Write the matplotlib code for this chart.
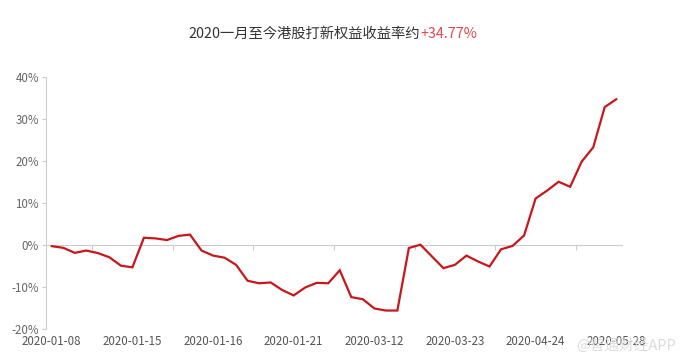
import matplotlib
matplotlib.use("Agg")
import matplotlib.pyplot as plt
from matplotlib.ticker import FuncFormatter

plt.rcParams['font.family'] = ['Noto Sans CJK SC', 'DejaVu Sans']

# ---- data ----
returns = [-0.25, -0.65, -1.85, -1.3, -1.9, -2.9, -4.9, -5.3, 1.75, 1.6,
           1.2, 2.2, 2.5, -1.3, -2.5, -3.0, -4.7, -8.5, -9.1, -8.9,
           -10.7, -12.0, -10.1, -9.0, -9.1, -6.0, -12.4, -12.9, -15.1, -15.6,
           -15.6, -0.7, 0.1, -2.7, -5.5, -4.7, -2.5, -3.9, -5.1, -1.0,
           -0.2, 2.3, 11.1, 13.0, 15.1, 13.9, 19.9, 23.3, 32.9, 34.77]
tick_labels = ['2020-01-08', '2020-01-15', '2020-01-16', '2020-01-21',
               '2020-03-12', '2020-03-23', '2020-04-24', '2020-05-28']
label_step = 7
y_ticks = [-20, -10, 0, 10, 20, 30, 40]
title_main = '2020一月至今港股打新权益收益率约'
title_value = '+34.77%'

# ---- figure ----
fig = plt.figure(figsize=(6.85, 3.64), dpi=100)
ax = fig.add_axes([46/685, 1-329/364, (622-46)/685, (329-77.3)/364])

x = list(range(len(returns)))
ax.plot(x, returns, color='#c8161d', lw=1.6, solid_joinstyle='miter', zorder=3)

ax.set_xlim(-0.5, len(returns) - 0.5)
ax.set_ylim(-20, 40)

for s in ['top', 'right', 'bottom']:
    ax.spines[s].set_visible(False)
ax.spines['left'].set_color('#cccccc')
ax.spines['left'].set_linewidth(0.8)

ax.set_yticks(y_ticks)
ax.yaxis.set_major_formatter(FuncFormatter(lambda v, p: f'{int(v)}%'))
ax.tick_params(axis='y', direction='out', length=3, width=0.8, color='#cccccc',
               labelcolor='#666666', labelsize=8.3, pad=2)

label_pos = list(range(0, len(returns), label_step))
ax.set_xticks(label_pos)
ax.set_xticklabels(tick_labels)
ax.tick_params(axis='x', length=0, labelcolor='#555555', labelsize=8.3, pad=4.5)

# zero axis line with ticks between labels
sec = ax.secondary_xaxis(20/60)
sec.spines['bottom'].set_color('#cccccc')
sec.spines['bottom'].set_linewidth(0.8)
sec.set_xticks([p + label_step/2 for p in label_pos[:-1]])
sec.set_xticklabels([])
sec.tick_params(axis='x', direction='out', length=3.5, width=0.8, color='#cccccc')

# title
fig.canvas.draw()
r = fig.canvas.get_renderer()
ta = fig.text(0.5, 1-34/364, title_main, fontsize=10.3, color='#333333',
              ha='left', va='center')
tb = fig.text(0.5, 1-34/364, title_value, fontsize=10.3, color='#e0474f',
              ha='left', va='center')
wa = ta.get_window_extent(r).width
wb = tb.get_window_extent(r).width
cx = 333
x0 = cx - (wa + wb) / 2
ta.set_x(x0 / 685)
tb.set_x((x0 + wa) / 685)

# watermark
fig.text(626/685, 1-345/364, '@智通财经APP', fontsize=10.5, color='#d8d8d8',
         ha='center', va='center', alpha=0.9)

fig.savefig('out.png', dpi=100)
